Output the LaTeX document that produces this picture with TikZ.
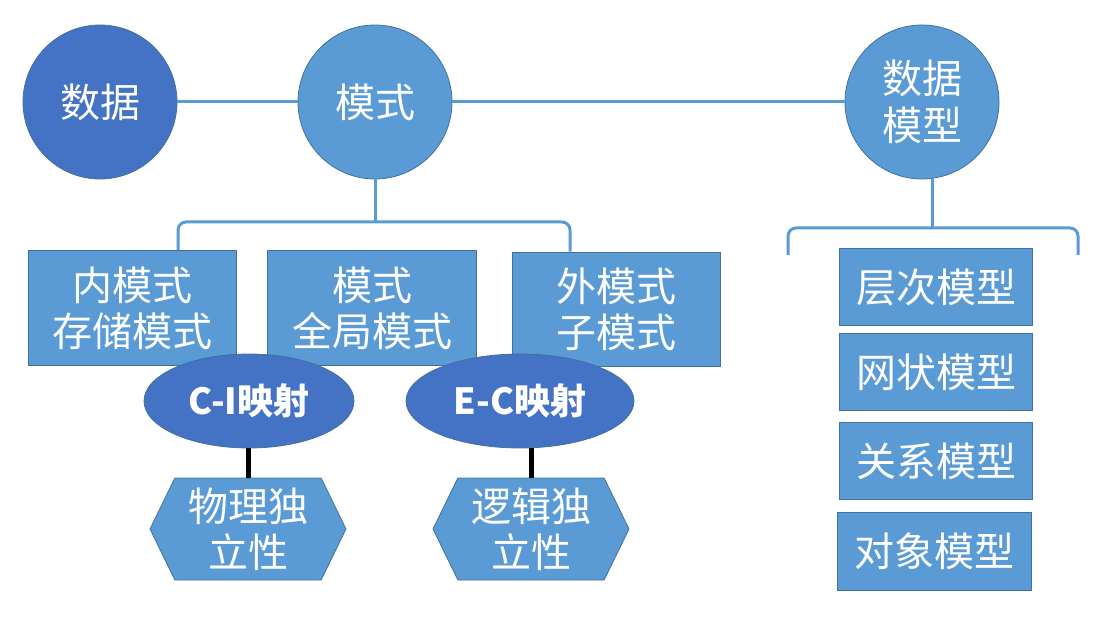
\documentclass[tikz,border=0pt]{standalone}
\usepackage{fontspec}
\setmainfont{Noto Sans CJK SC}
\usetikzlibrary{shapes.geometric,shapes.symbols}
\definecolor{darkblue}{HTML}{4472C4}
\definecolor{lightblue}{HTML}{5B9BD5}
\definecolor{rimblue}{HTML}{41719C}
\tikzset{
  ball/.style={circle, draw=rimblue, line width=0.8pt, minimum size=154pt, inner sep=0pt,
    text=white, align=center, font=\fontsize{40}{47}\selectfont},
  panel/.style={rectangle, draw=rimblue, line width=0.8pt, fill=lightblue, inner sep=0pt,
    text=white, align=center, font=\fontsize{40}{46}\selectfont},
  mapping/.style={ellipse, draw=rimblue, line width=0.8pt, fill=darkblue, inner sep=0pt,
    minimum width=210pt, minimum height=94pt, text=white,
    font=\fontsize{36}{42}\selectfont\bfseries},
  hexa/.style={signal, signal to=east and west, signal pointer angle=128,
    draw=rimblue, line width=0.8pt, fill=lightblue, inner sep=0pt,
    minimum width=196pt, minimum height=102pt, text=white, align=center,
    font=\fontsize{40}{46}\selectfont},
  brace/.style={draw=lightblue, line width=3pt},
  link/.style={draw=black, line width=5pt}
}
\begin{document}
\begin{tikzpicture}[x=1pt,y=-1pt]
\useasboundingbox (0,0) rectangle (1102,620);
% top row
\node[ball, fill=darkblue] (sj) at (100,102) {数据};
\node[ball, fill=lightblue] (ms) at (375,102) {模式};
\node[ball, fill=lightblue] (sjmx) at (922,102) {数据\\模型};
\draw[brace] (sj) -- (ms);
\draw[brace] (ms) -- (sjmx);
% three schema boxes
\node[panel, minimum width=208pt, minimum height=115pt] (nei) at (132,308) {内模式\\存储模式};
\node[panel, minimum width=209pt, minimum height=115pt] (quan) at (372,308) {模式\\全局模式};
\node[panel, minimum width=208pt, minimum height=114pt] (wai) at (616,309) {外模式\\子模式};
\draw[brace] (ms.south) -- (ms.south |- 0,222);
\draw[brace, rounded corners=8pt] (nei.north -| 178,0) -- (178,222) -- (570,222) -- (wai.north -| 570,0);
% mappings
\node[mapping] (ci) at (249,401) {C-I映射};
\node[mapping, minimum width=228pt] (ec) at (520,401) {E-C映射};
\node[hexa] (wl) at (248,529) {物理独\\立性};
\node[hexa] (lj) at (531,529) {逻辑独\\立性};
\draw[link] (ci.south -| wl.north) -- (wl.north);
\draw[link] (ec.south -| lj.north) -- (lj.north);
% data models
\node[panel, minimum width=193pt, minimum height=77pt] (cc) at (936,287) {层次模型};
\node[panel, minimum width=193pt, minimum height=77pt] (wz) at (936,372) {网状模型};
\node[panel, minimum width=193pt, minimum height=77pt] (gx) at (936,461) {关系模型};
\node[panel, minimum width=194pt, minimum height=78pt] (dx) at (934,551) {对象模型};
\draw[brace] (sjmx.-82) -- (sjmx.-82 |- 0,228);
\draw[brace, rounded corners=8pt] (788,255) -- (788,228) -- (1078,228) -- (1078,255);
\end{tikzpicture}
\end{document}
